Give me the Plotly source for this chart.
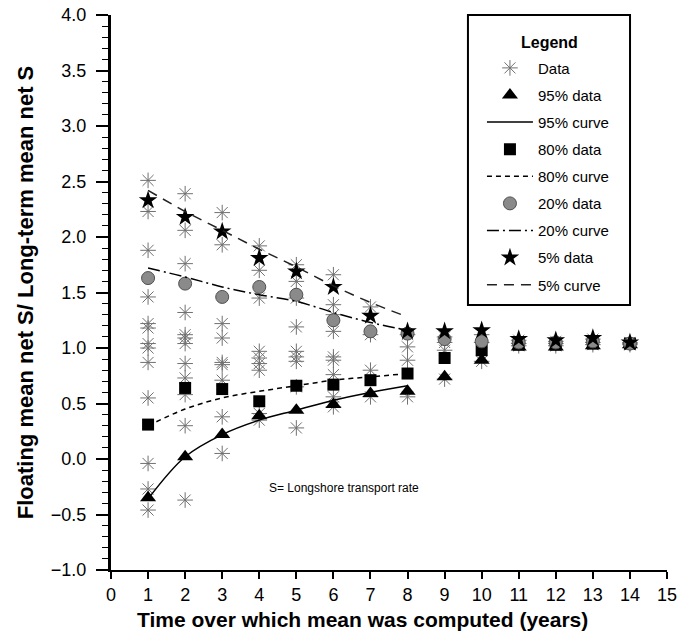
import plotly.graph_objects as go

# ---------------- data ----------------
data_x = ([1] * 13 + [2] * 12 + [3] * 9 + [4] * 9 + [5] * 9 + [6] * 9 +
          [7] * 4 + [8] * 4 + [9] * 4 + [10] * 3 + [11] * 3 + [12] * 3 +
          [13] * 3 + [14] * 3)
data_y = [2.51, 2.23, 1.88, 1.46, 1.22, 1.18, 1.04, 1.00, 0.87, 0.55, -0.04, -0.27, -0.46,
          2.39, 2.06, 1.76, 1.32, 1.12, 1.09, 1.04, 0.86, 0.73, 0.58, 0.30, -0.37,
          2.22, 1.93, 1.22, 1.09, 0.87, 0.85, 0.71, 0.38, 0.05,
          1.92, 1.70, 1.45, 0.97, 0.91, 0.86, 0.80, 0.41, 0.35,
          1.75, 1.60, 1.45, 1.19, 0.97, 0.92, 0.88, 0.65, 0.28,
          1.66, 1.39, 1.30, 1.15, 0.92, 0.89, 0.76, 0.56, 0.47,
          1.37, 1.12, 0.80, 0.56,
          1.12, 1.01, 0.89, 0.56,
          1.10, 1.05, 0.98, 0.72,
          1.12, 1.05, 0.88,
          1.07, 1.04, 1.02,
          1.06, 1.04, 1.02,
          1.08, 1.05, 1.03,
          1.05, 1.04, 1.03]

years = [1, 2, 3, 4, 5, 6, 7, 8, 9, 10, 11, 12, 13, 14]
p95_data = [-0.35, 0.02, 0.22, 0.39, 0.44, 0.49, 0.59, 0.61, 0.74, 0.89, 1.01, 1.01, 1.02, 1.03]
p80_data = [0.31, 0.64, 0.63, 0.52, 0.66, 0.67, 0.71, 0.77, 0.91, 0.98, 1.03, 1.03, 1.04, 1.04]
p20_data = [1.63, 1.58, 1.46, 1.55, 1.48, 1.25, 1.15, 1.13, 1.08, 1.06, 1.05, 1.05, 1.06, 1.04]
p5_data = [2.33, 2.18, 2.05, 1.81, 1.69, 1.55, 1.29, 1.15, 1.15, 1.16, 1.08, 1.07, 1.09, 1.05]

curve_x = [1, 2, 3, 4, 5, 6, 7, 8]
p95_curve = [-0.36, 0.02, 0.22, 0.35, 0.44, 0.53, 0.60, 0.66]
p80_curve = [0.30, 0.45, 0.55, 0.61, 0.66, 0.71, 0.74, 0.77]
p20_curve = [1.72, 1.64, 1.55, 1.48, 1.42, 1.32, 1.23, 1.16]
p5_curve = [2.42, 2.23, 2.06, 1.89, 1.73, 1.56, 1.41, 1.28]

x_title = "Time over which mean was computed (years)"
y_title = "Floating mean net S/ Long-term mean net S"
legend_title = "Legend"
note = "S= Longshore transport rate"

FONT = "Arial, Liberation Sans, sans-serif"

fig = go.Figure()

fig.add_trace(go.Scatter(
    x=data_x, y=data_y, mode="markers", name="Data", legendgroup="a",
    marker=dict(symbol="asterisk-open", size=13, color="#707070",
                line=dict(color="#707070", width=1))))
fig.add_trace(go.Scatter(
    x=years, y=p95_data, mode="markers", name="95% data", legendgroup="b",
    marker=dict(symbol="triangle-up", size=14, color="black")))
fig.add_trace(go.Scatter(
    x=curve_x, y=p95_curve, mode="lines", name="95% curve", legendgroup="c",
    line=dict(color="black", width=1.5, shape="spline")))
fig.add_trace(go.Scatter(
    x=years, y=p80_data, mode="markers", name="80% data", legendgroup="d",
    marker=dict(symbol="square", size=12, color="black")))
fig.add_trace(go.Scatter(
    x=curve_x, y=p80_curve, mode="lines", name="80% curve", legendgroup="e",
    line=dict(color="black", width=1.5, dash="5px,4px", shape="spline")))
fig.add_trace(go.Scatter(
    x=years, y=p20_data, mode="markers", name="20% data", legendgroup="f",
    marker=dict(symbol="circle", size=13, color="#8a8a8a",
                line=dict(color="#505050", width=1))))
fig.add_trace(go.Scatter(
    x=curve_x, y=p20_curve, mode="lines", name="20% curve", legendgroup="g",
    line=dict(color="black", width=1.5, dash="12px,4px,2px,4px", shape="spline")))
fig.add_trace(go.Scatter(
    x=years, y=p5_data, mode="markers", name="5% data", legendgroup="h",
    marker=dict(symbol="star", size=14, color="black")))
fig.add_trace(go.Scatter(
    x=curve_x, y=p5_curve, mode="lines", name="5% curve", legendgroup="i",
    line=dict(color="#222222", width=1.5, dash="10px,7px", shape="spline")))

# legend frame and heading
fig.add_shape(type="rect", xref="paper", yref="paper",
              x0=0.642, x1=0.9335, y0=0.4775, y1=1.0,
              line=dict(color="black", width=2), fillcolor="white", layer="below")
fig.add_annotation(x=0.7878, y=0.951, xref="paper", yref="paper",
                   text="<b>" + legend_title + "</b>", showarrow=False,
                   xanchor="center", yanchor="middle",
                   font=dict(family=FONT, size=16, color="black"))

fig.add_annotation(x=4.2, y=-0.26, xref="x", yref="y", text=note,
                   showarrow=False, xanchor="left", yanchor="middle",
                   font=dict(family=FONT, size=12, color="black"))

# x-axis title (offset left of the axis centre as in the reference)
fig.add_annotation(x=0.453, y=-0.09, xref="paper", yref="paper",
                   text="<b>" + x_title + "</b>", showarrow=False,
                   xanchor="center", yanchor="middle",
                   font=dict(family=FONT, size=21, color="black"))

fig.update_layout(
    width=679, height=639,
    margin=dict(l=111, r=12, t=15, b=69),
    paper_bgcolor="white", plot_bgcolor="white",
    font=dict(family=FONT, color="black"),
    legend=dict(
        x=0.642, y=0.934, xanchor="left", yanchor="top",
        borderwidth=0, bgcolor="rgba(0,0,0,0)",
        font=dict(family=FONT, size=15, color="black"),
        traceorder="grouped", tracegroupgap=4.6,
        indentation=14, itemwidth=46,
    ),
)

fig.update_xaxes(
    range=[0, 15], dtick=1, tick0=0, showgrid=False, zeroline=False,
    showline=True, linecolor="black", linewidth=2,
    ticks="outside", ticklen=7, tickwidth=1.5, tickcolor="black",
    tickfont=dict(family=FONT, size=18, color="black"),
    ticklabeloverflow="allow",
    automargin=False,
)
fig.update_yaxes(
    range=[-1, 4], dtick=0.5, tick0=0, tickformat=".1f",
    showgrid=False, zeroline=False,
    showline=True, linecolor="black", linewidth=3,
    ticks="outside", ticklen=12, tickwidth=1.5, tickcolor="black",
    minor=dict(dtick=0.1, ticks="outside", ticklen=6, tickwidth=1, tickcolor="black", showgrid=False),
    tickfont=dict(family=FONT, size=18, color="black"),
    ticklabelstandoff=6,
    title=dict(text="<b>" + y_title + "</b>", standoff=12,
               font=dict(family=FONT, size=22, color="black")),
    automargin=False,
)

fig.write_html("out.html")
